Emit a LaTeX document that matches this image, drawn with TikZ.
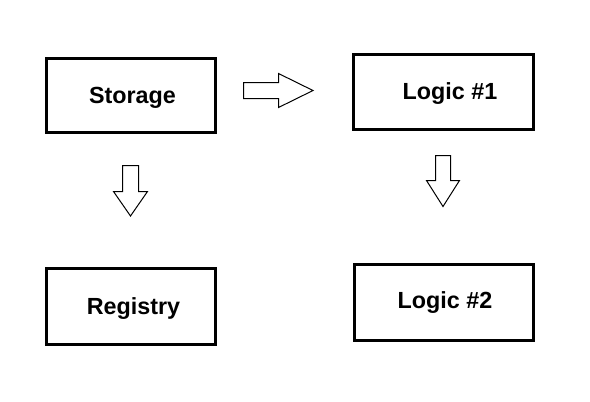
\documentclass[tikz,border=0pt]{standalone}
\usepackage{fontspec}
\setmainfont{Liberation Sans}
\begin{document}
\begin{tikzpicture}[x=0.75pt,y=-0.75pt,
  box/.style={draw=black, line width=2.25pt, fill=white, inner sep=0pt},
  lbl/.style={font=\fontsize{17.5pt}{20pt}\selectfont\bfseries, inner sep=0pt, anchor=base},
  blockarrow/.style={draw=black, line width=0.75pt, fill=white, line join=miter}]
\useasboundingbox (0,0) rectangle (590,401);
\fill[white] (0,0) rectangle (590,401);
% boxes
\node[box, minimum width=126.75pt, minimum height=55.5pt] (storage) at (130.5,95) {};
\node[box, minimum width=135pt, minimum height=56.25pt] (logic1) at (443,91.5) {};
\node[box, minimum width=126.75pt, minimum height=57pt] (registry) at (130.5,306) {};
\node[box, minimum width=134.25pt, minimum height=57pt] (logic2) at (443.5,302) {};
% labels
\node[lbl] (tstorage) at (132.5,103) {Storage};
\node[lbl] (tlogic1) at (450,99) {Logic \#1};
\node[lbl] (tregistry) at (133.5,314) {Registry};
\node[lbl] (tlogic2) at (445,308) {Logic \#2};
% block arrows
\draw[blockarrow] (243.5,82.5) -- (278.5,82.5) -- (278.5,73.5) -- (313,90.5) -- (278.5,107.5) -- (278.5,98.5) -- (243.5,98.5) -- cycle;
\draw[blockarrow] (122.5,165.5) -- (138.5,165.5) -- (138.5,191.5) -- (147.5,191.5) -- (130.5,216) -- (113.5,191.5) -- (122.5,191.5) -- cycle;
\draw[blockarrow] (435.5,155.5) -- (450.5,155.5) -- (450.5,180.5) -- (459.5,180.5) -- (443,206.5) -- (426.5,180.5) -- (435.5,180.5) -- cycle;
\end{tikzpicture}
\end{document}
